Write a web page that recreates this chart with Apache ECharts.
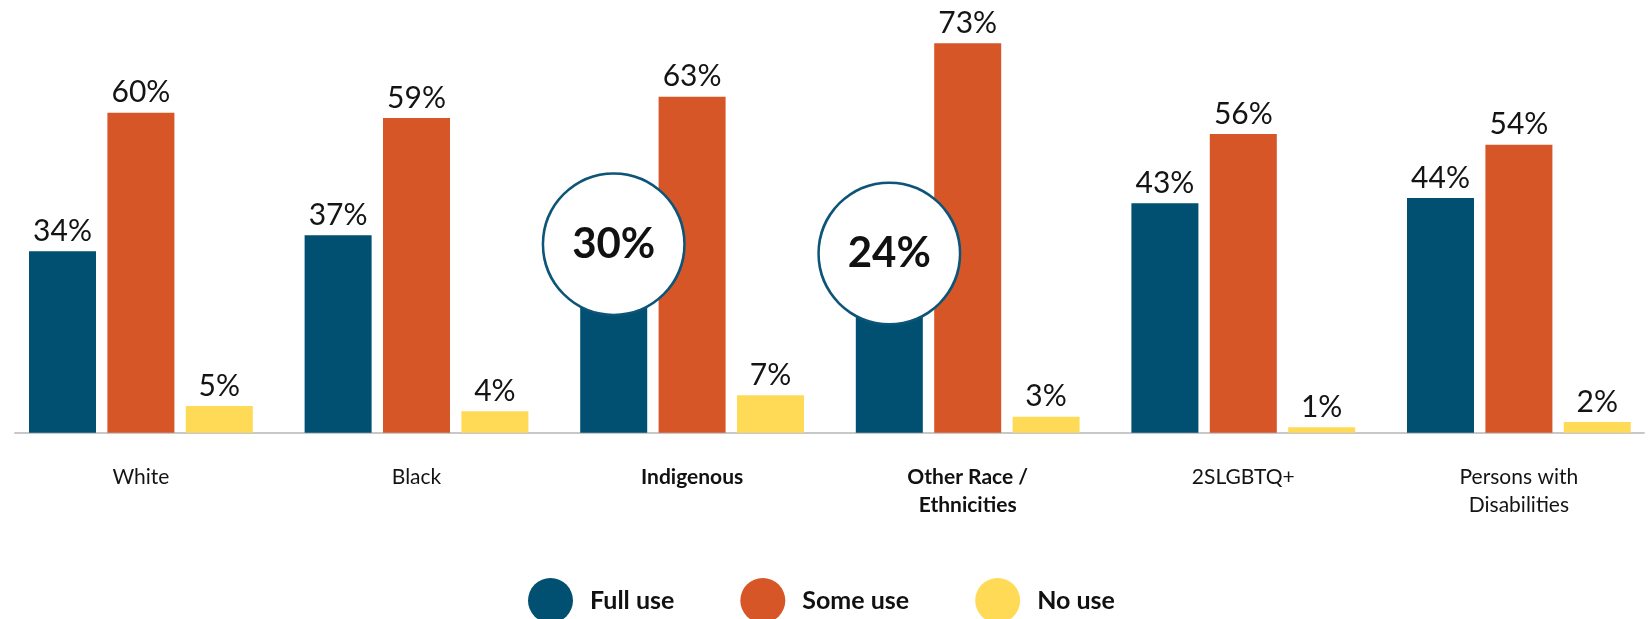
<!DOCTYPE html>
<html>
<head>
<meta charset="utf-8">
<script src="https://cdn.jsdelivr.net/npm/echarts@6/dist/echarts.min.js"></script>
<style>
  html, body { margin: 0; padding: 0; background: #fff; }
  #chart { width: 1651px; height: 619px; }
</style>
</head>
<body>
<div id="chart"></div>
<script>
// categories and values (percent)
var categories = ['White', 'Black', 'Indigenous', 'Other Race /\nEthnicities', '2SLGBTQ+', 'Persons with\nDisabilities'];
var boldCategories = ['Indigenous', 'Other Race /\nEthnicities'];
var seriesNames = ['Full use', 'Some use', 'No use'];
var fullUse = [34, 37, 30, 24, 43, 44];
var someUse = [60, 59, 63, 73, 56, 54];
var noUse = [5, 4, 7, 3, 1, 2];
// which Full use values are shown in a circle callout
var calloutIdx = [2, 3];

var colors = ['#014f71', '#d65627', '#ffda57'];
var font = 'Lato, "Noto Sans", sans-serif';

var chart = echarts.init(document.getElementById('chart'));

var valueLabel = {
  show: true,
  position: 'top',
  distance: 5,
  formatter: '{c}%',
  fontFamily: font,
  fontSize: 30,
  color: '#141414'
};

// callout circles: vertical shift from the bar top, styling only
var calloutOffset = { 2: 41, 3: 18.3 };

var fullData = fullUse.map(function (v, i) {
  if (calloutIdx.indexOf(i) < 0) return v;
  return {
    value: v,
    label: {
      show: true,
      position: 'top',
      distance: 0,
      offset: [0, calloutOffset[i]],
      formatter: '{c}%',
      width: 139,
      height: 139,
      lineHeight: 139,
      align: 'center',
      borderRadius: 70,
      backgroundColor: '#fff',
      borderColor: '#0d5578',
      borderWidth: 2.5,
      fontFamily: font,
      fontSize: 42,
      fontWeight: 'bold',
      color: '#111'
    }
  };
});

var hiddenY = function (idx) {
  return { type: 'value', gridIndex: idx, min: 0, max: 80, show: false };
};

var option = {
  animation: false,
  grid: [
    { left: 3.1, right: -5.7, top: 6, bottom: 186.3, outerBoundsMode: 'none' }, // bars + labels
    { left: 15, right: 7, top: 6, bottom: 186.3, outerBoundsMode: 'none' }      // axis line
  ],
  legend: {
    data: seriesNames,
    left: 528,
    top: 578,
    padding: 0,
    icon: 'circle',
    itemWidth: 45,
    itemHeight: 45,
    itemGap: 66,
    textStyle: {
      fontFamily: font,
      fontSize: 25,
      fontWeight: 'bold',
      color: '#111',
      padding: [9, 0, 0, 12]
    }
  },
  xAxis: [
    {
      type: 'category', gridIndex: 0, data: categories,
      axisLine: { show: false }, axisTick: { show: false },
      axisLabel: {
        interval: 0,
        margin: 31,
        fontFamily: font,
        fontSize: 21,
        lineHeight: 28,
        color: '#141414',
        formatter: function (v) {
          if (boldCategories.indexOf(v) < 0) return v;
          return v.split('\n').map(function (s) { return '{b|' + s + '}'; }).join('\n');
        },
        rich: {
          b: { fontFamily: font, fontSize: 21, lineHeight: 28, fontWeight: 'bold', color: '#111' }
        }
      }
    },
    {
      type: 'category', gridIndex: 1, data: categories,
      axisLine: { show: true, lineStyle: { color: '#c8c8c8', width: 2 } },
      axisTick: { show: false }, axisLabel: { show: false }
    }
  ],
  yAxis: [hiddenY(0), hiddenY(1)],
  series: [
    {
      name: seriesNames[0], type: 'bar', z: 3,
      barWidth: 67, barGap: '17%',
      itemStyle: { color: colors[0] },
      label: valueLabel,
      data: fullData
    },
    {
      name: seriesNames[1], type: 'bar',
      barWidth: 67, barGap: '17%',
      itemStyle: { color: colors[1] },
      label: valueLabel,
      data: someUse
    },
    {
      name: seriesNames[2], type: 'bar',
      barWidth: 67, barGap: '17%',
      itemStyle: { color: colors[2] },
      label: valueLabel,
      data: noUse
    }
  ]
};

chart.setOption(option);
</script>
</body>
</html>
